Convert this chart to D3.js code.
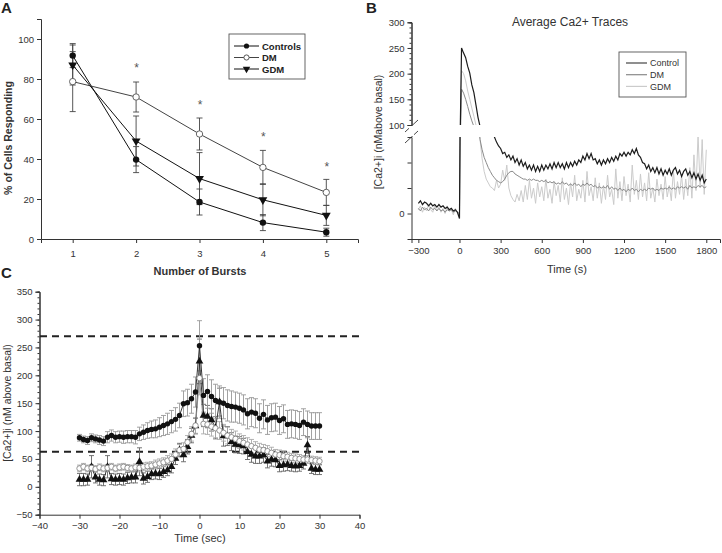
<!DOCTYPE html>
<html><head><meta charset="utf-8">
<script src="https://cdn.jsdelivr.net/npm/d3@7"></script>
<style>
body{margin:0;background:#fff;}
svg{display:block;}
text{font-family:"Liberation Sans",Arial,sans-serif;}
</style></head><body>
<svg id="chart" width="722" height="553"></svg>
<script>
// ---------------- Panel A data ----------------
const burstCategories = [1, 2, 3, 4, 5];
const burstControls = [91.7, 39.7, 18.5, 8.2, 3.4];
const burstControlsErr = [6, 6.5, 6.5, 4, 2];
const burstDM = [78.7, 71, 52.5, 35.8, 23.3];
const burstDMErr = [15, 7.5, 8, 8.5, 6.5];
const burstGDM = [87, 49, 30.2, 19.6, 11.8];
const burstGDMErr = [10, 12.5, 13, 8, 5];
const sigBursts = [2, 3, 4, 5];
const sigHeights = [87, 68.5, 52.5, 37.5];
const burstYTicks = [0, 20, 40, 60, 80, 100];
const legendA = ["Controls", "DM", "GDM"];

// ---------------- Panel B data (sampled every 15 s from -300 s) ----------------
const traceStart = -300, traceStep = 15;
const traceControl = [
  8,10,7,9,8,6,8,6,7,5,
  7,5,6,4,5,3,4,2,3,1,
  -4,250,240,231,214,201,178,163,139,115,
  97,89,82,76,71,67,63,60,56,53,
  51,47,48,44,46,42,45,40,43,38,
  42,37,40,35,38,34,38,33,37,33,
  38,34,38,35,39,35,40,36,40,36,
  39,35,40,36,40,37,41,38,42,40,
  45,42,47,43,47,42,43,39,42,38,
  42,39,43,40,44,41,45,42,47,45,
  48,45,48,46,50,47,51,46,44,40,
  39,35,38,33,36,32,36,31,35,30,
  34,31,35,30,34,36,31,34,29,33,
  35,30,33,28,32,27,31,26,30,24,
  27];
const traceDM = [
  4,2,5,3,4,2,5,3,4,2,
  4,2,3,1,3,2,3,1,2,1,
  0,170,162,150,136,121,108,97,85,72,
  58,50,44,40,36,33,30,28,26,25,
  24,25,27,30,32,33,33,31,30,29,
  28,27,27,26,27,26,27,26,26,25,
  26,25,26,24,25,24,25,23,24,23,
  25,23,24,22,23,22,24,22,23,21,
  23,22,24,22,23,21,22,20,21,20,
  21,20,22,19,21,19,20,18,20,18,
  19,17,19,18,20,18,19,17,19,18,
  19,18,20,19,20,18,19,18,20,19,
  20,19,21,19,20,19,21,20,21,20,
  21,19,22,20,21,20,22,21,22,20,
  21];
const traceGDM = [
  3,6,1,5,2,7,3,1,6,2,
  5,1,4,0,6,2,3,-1,4,1,
  -2,206,200,186,166,150,133,117,100,80,
  58,43,33,27,24,21,20,18,26,20,
  23,34,26,38,20,14,11,9,15,10,
  18,9,22,11,26,12,20,8,24,13,
  21,10,27,12,19,8,25,14,22,9,
  28,11,20,7,24,13,30,10,19,12,
  26,9,33,14,21,10,28,12,24,8,
  22,11,30,13,19,7,35,12,25,10,
  29,14,23,9,38,15,26,11,31,13,
  24,10,32,12,20,9,27,14,23,11,
  29,13,22,10,34,12,25,15,30,11,
  27,14,36,12,46,18,62,20,58,15,
  50];
const traceXTicks = [-300, 0, 300, 600, 900, 1200, 1500, 1800];
const traceUpperTicks = [100, 150, 200, 250, 300];
const traceLowerTicks = [0, 20, 40];
const legendB = ["Control", "DM", "GDM"];

// ---------------- Panel C data (t = -30 .. 30 s) ----------------
const cTimes = d3.range(-30, 31, 1);
const cControls = [
  88,85,83,88,86,84,82,89,92,89,
  90,89,90,90,89,95,98,101,103,104,
  107,110,113,117,121,128,149,151,158,170,
  253,
  164,171,162,155,152,150,146,144,143,141,
  138,131,134,132,123,130,120,124,125,119,
  122,112,113,112,110,116,112,109,109,109];
const cControlsErr = [
  6,6,7,7,7,8,8,10,10,10,
  10,11,11,11,12,12,13,14,15,16,
  17,18,19,20,21,22,23,24,26,27,
  45,
  30,30,30,29,29,28,28,28,27,27,
  27,27,26,26,26,26,26,25,25,25,
  25,25,25,25,25,24,24,24,24,24];
const cDM = [
  33,36,33,34,32,35,33,34,36,33,
  35,36,34,33,35,34,36,37,38,40,
  42,44,47,50,58,66,68,80,95,110,
  195,
  113,112,108,105,101,97,92,89,86,82,
  79,76,73,70,67,66,64,61,58,57,
  55,54,52,51,50,49,49,48,47,46];
const cDMErr = [
  6,6,6,6,6,6,6,6,6,6,
  6,6,6,6,6,7,7,7,7,8,
  8,8,9,9,10,10,11,12,13,14,
  30,
  18,18,17,17,16,15,15,14,14,13,
  13,12,12,11,11,10,10,10,9,9,
  9,8,8,8,8,7,7,7,7,7];
const cGDM = [
  13,13,13,36,17,13,12,36,14,13,
  14,13,16,17,17,45,15,18,23,24,
  23,27,30,36,51,66,57,72,92,109,
  225,
  128,126,120,106,152,91,91,81,76,75,
  73,63,58,55,55,57,46,49,48,38,
  39,40,38,37,38,42,75,33,31,31];
const cGDMErr = [
  11,11,10,20,10,10,10,20,10,10,
  10,10,10,10,10,25,10,10,10,10,
  10,10,10,11,11,12,12,13,13,14,
  40,
  20,20,20,20,25,18,17,16,15,15,
  14,14,14,13,13,13,12,12,12,11,
  11,11,10,10,10,10,15,9,9,9];
const cDashLevels = [270, 63];
const cXTicks = [-40, -30, -20, -10, 0, 10, 20, 30, 40];
const cYTicks = [-50, 0, 50, 100, 150, 200, 250, 300, 350];

// ================= drawing =================
const svg = d3.select("#chart");
const tickFont = 9.5, tickColor = "#333";

function styleAxis(g) {
  g.selectAll(".domain").attr("stroke", "#333").attr("stroke-width", 1);
  g.selectAll(".tick line").attr("stroke", "#333");
  g.selectAll(".tick text").attr("font-size", tickFont).attr("fill", tickColor)
    .attr("font-family", "Liberation Sans, Arial, sans-serif");
}

function errBars(g, xs, vals, errs, x, y, color, cap) {
  const gg = g.append("g").attr("stroke", color).attr("stroke-width", 0.9).attr("fill", "none");
  vals.forEach((v, i) => {
    const cx = x(xs[i]);
    gg.append("line").attr("x1", cx).attr("x2", cx).attr("y1", y(v - errs[i])).attr("y2", y(v + errs[i]));
    gg.append("line").attr("x1", cx - cap).attr("x2", cx + cap).attr("y1", y(v + errs[i])).attr("y2", y(v + errs[i]));
    gg.append("line").attr("x1", cx - cap).attr("x2", cx + cap).attr("y1", y(v - errs[i])).attr("y2", y(v - errs[i]));
  });
}

// ---------- Panel A ----------
{
  const x = d3.scaleLinear().domain([0.5, 5.5]).range([41, 358]);
  const y = d3.scaleLinear().domain([0, 110]).range([239, 19]);
  const g = svg.append("g");
  g.append("g").attr("transform", "translate(0,239)")
    .call(d3.axisBottom(x).tickValues(burstCategories).tickSize(4).tickPadding(7).tickFormat(d3.format("d")))
    .call(styleAxis);
  g.append("g").attr("transform", "translate(41,0)")
    .call(d3.axisLeft(y).tickValues(burstYTicks).tickSize(4).tickPadding(3))
    .call(styleAxis);

  const series = [
    {v: burstControls, e: burstControlsErr, line: "#111", m: "dot"},
    {v: burstDM, e: burstDMErr, line: "#444", m: "open"},
    {v: burstGDM, e: burstGDMErr, line: "#111", m: "tri"}
  ];
  series.forEach(s => errBars(g, burstCategories, s.v, s.e, x, y, "#444", 3));
  const ln = d3.line().x((d, i) => x(burstCategories[i])).y(d => y(d));
  series.forEach(s => g.append("path").datum(s.v).attr("d", ln).attr("fill", "none").attr("stroke", s.line).attr("stroke-width", 1));
  const tri = d3.symbol().type(d3.symbolTriangle).size(34);
  series.forEach(s => {
    s.v.forEach((v, i) => {
      const cx = x(burstCategories[i]), cy = y(v);
      if (s.m === "dot") g.append("circle").attr("cx", cx).attr("cy", cy).attr("r", 3.2).attr("fill", "#111");
      else if (s.m === "open") g.append("circle").attr("cx", cx).attr("cy", cy).attr("r", 3.2).attr("fill", "#fff").attr("stroke", "#555").attr("stroke-width", 0.9);
      else g.append("path").attr("d", tri).attr("transform", `translate(${cx},${cy}) rotate(180)`).attr("fill", "#111");
    });
  });
  sigBursts.forEach((b, i) => g.append("text").attr("x", x(b) + 0.5).attr("y", y(sigHeights[i]) + 7)
    .attr("text-anchor", "middle").attr("font-size", 12).attr("fill", "#555").text("*"));

  // legend
  const lg = g.append("g");
  lg.append("rect").attr("x", 229).attr("y", 34).attr("width", 76).attr("height", 45).attr("fill", "#fff").attr("stroke", "#555").attr("stroke-width", 0.9);
  legendA.forEach((name, i) => {
    const ly = 46 + i * 11.5;
    lg.append("line").attr("x1", 234).attr("x2", 259).attr("y1", ly).attr("y2", ly).attr("stroke", series[i].line).attr("stroke-width", 1);
    if (series[i].m === "dot") lg.append("circle").attr("cx", 246.5).attr("cy", ly).attr("r", 2.6).attr("fill", "#111");
    else if (series[i].m === "open") lg.append("circle").attr("cx", 246.5).attr("cy", ly).attr("r", 2.6).attr("fill", "#fff").attr("stroke", "#555");
    else lg.append("path").attr("d", d3.symbol().type(d3.symbolTriangle).size(24)).attr("transform", `translate(246.5,${ly}) rotate(180)`).attr("fill", "#111");
    lg.append("text").attr("x", 262).attr("y", ly + 3.5).attr("font-size", 9.5).attr("font-weight", "bold").attr("fill", "#222").text(name);
  });

  g.append("text").attr("transform", "translate(12,138) rotate(-90)").attr("text-anchor", "middle")
    .attr("font-size", 10.5).attr("font-weight", "bold").attr("fill", "#333").text("% of Cells Responding");
  g.append("text").attr("x", 200).attr("y", 275).attr("text-anchor", "middle")
    .attr("font-size", 11).attr("font-weight", "bold").attr("fill", "#333").text("Number of Bursts");
  g.append("text").attr("x", 1).attr("y", 13).attr("font-size", 15).attr("font-weight", "bold")
    .attr("font-family", "Open Sans, sans-serif").attr("fill", "#222").text("A");
}

// ---------- Panel B ----------
{
  const x = d3.scaleLinear().domain([-350, 1900]).range([411.5, 720]);
  const yU = d3.scaleLinear().domain([100, 300]).range([125, 22.3]);
  const yL = d3.scaleLinear().domain([-20, 60]).range([239, 137]);
  const g = svg.append("g");
  const defs = svg.append("defs");
  defs.append("clipPath").attr("id", "clipU").append("rect").attr("x", 412).attr("y", 20).attr("width", 310).attr("height", 105);
  defs.append("clipPath").attr("id", "clipL").append("rect").attr("x", 412).attr("y", 137).attr("width", 310).attr("height", 102);

  g.append("g").attr("transform", "translate(0,239)")
    .call(d3.axisBottom(x).tickValues(traceXTicks).tickSize(4).tickPadding(4).tickFormat(d3.format("d")))
    .call(styleAxis);
  // upper y axis
  g.append("g").attr("transform", "translate(411.5,0)")
    .call(d3.axisLeft(yU).tickValues(d3.range(100, 301, 10)).tickSize(2).tickFormat(""))
    .call(styleAxis);
  g.append("g").attr("transform", "translate(411.5,0)")
    .call(d3.axisLeft(yU).tickValues(traceUpperTicks).tickSize(4).tickPadding(3))
    .call(styleAxis);
  // lower y axis
  g.append("g").attr("transform", "translate(411.5,0)")
    .call(d3.axisLeft(yL).tickValues(traceLowerTicks).tickSize(4).tickPadding(3).tickFormat(d => d === 0 ? "0" : ""))
    .call(styleAxis);
  // break marks
  g.append("line").attr("x1", 405).attr("y1", 132).attr("x2", 418).attr("y2", 120).attr("stroke", "#333").attr("stroke-width", 0.9);
  g.append("line").attr("x1", 405).attr("y1", 143).attr("x2", 418).attr("y2", 131).attr("stroke", "#333").attr("stroke-width", 0.9);
  g.append("rect").attr("x", 409).attr("y", 126).attr("width", 5).attr("height", 10).attr("fill", "#fff");

  const tr = [
    {v: traceGDM, c: "#cbcbcb", w: 1},
    {v: traceDM, c: "#8a8a8a", w: 1},
    {v: traceControl, c: "#1c1c1c", w: 1.2}
  ];
  const tx = i => x(traceStart + i * traceStep);
  tr.forEach(s => {
    g.append("path").datum(s.v).attr("clip-path", "url(#clipU)")
      .attr("d", d3.line().x((d, i) => tx(i)).y(d => yU(d)))
      .attr("fill", "none").attr("stroke", s.c).attr("stroke-width", s.w);
    g.append("path").datum(s.v).attr("clip-path", "url(#clipL)")
      .attr("d", d3.line().x((d, i) => tx(i)).y(d => yL(d)))
      .attr("fill", "none").attr("stroke", s.c).attr("stroke-width", s.w);
  });

  // legend
  const lg = g.append("g");
  lg.append("rect").attr("x", 619).attr("y", 52).attr("width", 67).attr("height", 45).attr("fill", "#fff").attr("stroke", "#555").attr("stroke-width", 0.9);
  const legCols = ["#444", "#8a8a8a", "#cbcbcb"];
  legendB.forEach((name, i) => {
    const ly = 63 + i * 11.7;
    lg.append("line").attr("x1", 626).attr("x2", 647).attr("y1", ly).attr("y2", ly).attr("stroke", legCols[i]).attr("stroke-width", 1.2);
    lg.append("text").attr("x", 650).attr("y", ly + 3.3).attr("font-size", 9).attr("fill", "#333").text(name);
  });

  g.append("text").attr("x", 570).attr("y", 26).attr("text-anchor", "middle").attr("font-size", 12).attr("fill", "#333").text("Average Ca2+ Traces");
  g.append("text").attr("x", 567).attr("y", 273).attr("text-anchor", "middle").attr("font-size", 11).attr("fill", "#333").text("Time (s)");
  g.append("text").attr("transform", "translate(382,132) rotate(-90)").attr("text-anchor", "middle")
    .attr("font-size", 10.5).attr("fill", "#333").text("[Ca2+]i (nMabove basal)");
  g.append("text").attr("x", 366).attr("y", 13).attr("font-size", 15).attr("font-weight", "bold")
    .attr("font-family", "Open Sans, sans-serif").attr("fill", "#222").text("B");
}

// ---------- Panel C ----------
{
  const x = d3.scaleLinear().domain([-40, 40]).range([39.5, 359.5]);
  const y = d3.scaleLinear().domain([-50, 350]).range([514.7, 291.7]);
  const g = svg.append("g");
  g.append("g").attr("transform", "translate(0,514.7)")
    .call(d3.axisBottom(x).tickValues(cXTicks).tickSize(4).tickPadding(4).tickFormat(d3.format("d")))
    .call(styleAxis);
  g.append("g").attr("transform", "translate(39.5,0)")
    .call(d3.axisLeft(y).tickValues(d3.range(-50, 351, 10)).tickSize(2).tickFormat(""))
    .call(styleAxis);
  g.append("g").attr("transform", "translate(39.5,0)")
    .call(d3.axisLeft(y).tickValues(cYTicks).tickSize(4).tickPadding(3))
    .call(styleAxis);

  cDashLevels.forEach(v => g.append("line").attr("x1", 40).attr("x2", 360).attr("y1", y(v)).attr("y2", y(v))
    .attr("stroke", "#222").attr("stroke-width", 2).attr("stroke-dasharray", "7,5"));

  const series = [
    {v: cGDM, e: cGDMErr, line: "#222", m: "tri", ec: "#666"},
    {v: cDM, e: cDMErr, line: "#888", m: "open", ec: "#aaa"},
    {v: cControls, e: cControlsErr, line: "#222", m: "dot", ec: "#999"}
  ];
  series.forEach(s => errBars(g, cTimes, s.v, s.e, x, y, s.ec, 2.5));
  const ln = d3.line().x((d, i) => x(cTimes[i])).y(d => y(d));
  series.forEach(s => g.append("path").datum(s.v).attr("d", ln).attr("fill", "none").attr("stroke", s.line).attr("stroke-width", 0.9));
  const tri = d3.symbol().type(d3.symbolTriangle).size(26);
  series.forEach(s => {
    s.v.forEach((v, i) => {
      const cx = x(cTimes[i]), cy = y(v);
      if (s.m === "dot") g.append("circle").attr("cx", cx).attr("cy", cy).attr("r", 2.7).attr("fill", "#111");
      else if (s.m === "open") g.append("circle").attr("cx", cx).attr("cy", cy).attr("r", 2.7).attr("fill", "#fff").attr("stroke", "#888").attr("stroke-width", 0.9);
      else g.append("path").attr("d", tri).attr("transform", `translate(${cx},${cy})`).attr("fill", "#111");
    });
  });

  g.append("text").attr("x", 200).attr("y", 542).attr("text-anchor", "middle").attr("font-size", 11).attr("fill", "#333").text("Time (sec)");
  g.append("text").attr("transform", "translate(11,403) rotate(-90)").attr("text-anchor", "middle")
    .attr("font-size", 10.5).attr("fill", "#333").text("[Ca2+]i (nM above basal)");
  g.append("text").attr("x", 1).attr("y", 278).attr("font-size", 15).attr("font-weight", "bold")
    .attr("font-family", "Open Sans, sans-serif").attr("fill", "#222").text("C");
}
</script>
</body></html>
